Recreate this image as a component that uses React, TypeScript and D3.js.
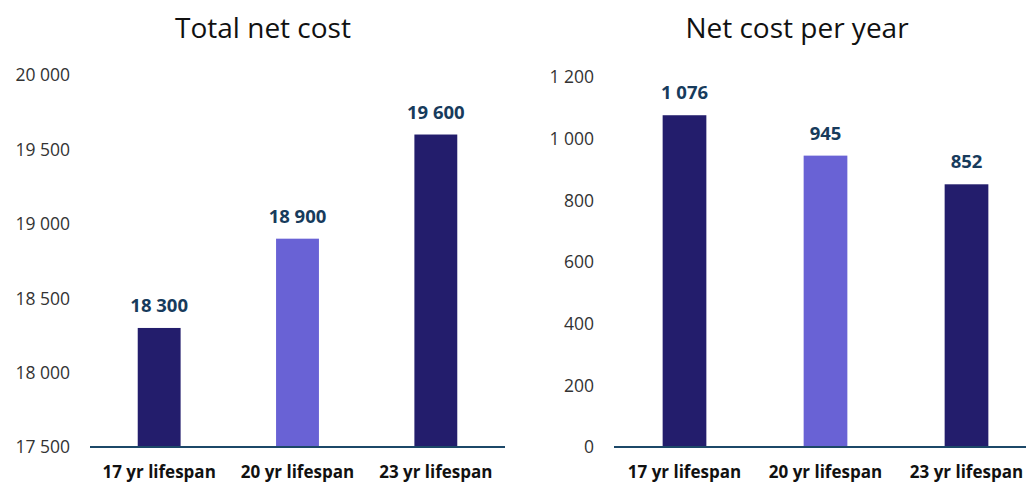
import React from "react";
import * as d3 from "d3";

const categories = ["17 yr lifespan", "20 yr lifespan", "23 yr lifespan"];
const totalCost = [18300, 18900, 19600];
const costPerYear = [1076, 945, 852];
const totalTicks = [17500, 18000, 18500, 19000, 19500, 20000];
const yearTicks = [0, 200, 400, 600, 800, 1000, 1200];
const barColors = ["#231d6c", "#6962d5", "#231d6c"];

const W = 1026;
const H = 484;
const FONT = "'Open Sans', 'Noto Sans', sans-serif";

const fmt = (v: number) => d3.format(",")(v).replace(/,/g, " ");

type PanelProps = {
  title: string;
  titleX: number;
  values: number[];
  ticks: number[];
  domain: [number, number];
  x0: number;
  x1: number;
  yTop: number;
  yBase: number;
  tickRight: number;
};

function Panel({ title, titleX, values, ticks, domain, x0, x1, yTop, yBase, tickRight }: PanelProps) {
  const x = d3.scaleBand<string>().domain(categories).range([x0, x1]).paddingInner(0.69).paddingOuter(0.345);
  const y = d3.scaleLinear().domain(domain).range([yBase, yTop]);
  return (
    <g>
      <text x={titleX} y={38} textAnchor="middle" fontSize={28} fill="#111" fontFamily={FONT}>
        {title}
      </text>
      {ticks.map((t) => (
        <text key={t} x={tickRight} y={y(t)} dy="0.36em" textAnchor="end" fontSize={17.5} fill="#333" fontFamily={FONT}>
          {fmt(t)}
        </text>
      ))}
      {values.map((v, i) => (
        <g key={categories[i]}>
          <rect x={x(categories[i])} y={y(v)} width={x.bandwidth()} height={yBase - y(v)} fill={barColors[i]} />
          <text
            x={(x(categories[i]) ?? 0) + x.bandwidth() / 2}
            y={y(v) - 16}
            textAnchor="middle"
            fontSize={18.5}
            fontWeight="bold"
            fill="#173b5c"
            fontFamily={FONT}
          >
            {fmt(v)}
          </text>
          <text
            x={(x(categories[i]) ?? 0) + x.bandwidth() / 2}
            y={478}
            textAnchor="middle"
            fontSize={17}
            fontWeight="bold"
            fill="#111"
            fontFamily={FONT}
          >
            {categories[i]}
          </text>
        </g>
      ))}
      <line x1={x0} x2={x1} y1={yBase} y2={yBase} stroke="#1c4868" strokeWidth={2} />
    </g>
  );
}

export default function App() {
  return (
    <svg width={W} height={H} style={{ position: "absolute", left: 0, top: 0, background: "#fff" }}>
      <Panel
        title="Total net cost"
        titleX={263}
        values={totalCost}
        ticks={totalTicks}
        domain={[17500, 20000]}
        x0={90}
        x1={505}
        yTop={75}
        yBase={447}
        tickRight={70}
      />
      <Panel
        title="Net cost per year"
        titleX={797}
        values={costPerYear}
        ticks={yearTicks}
        domain={[0, 1200]}
        x0={614}
        x1={1037}
        yTop={77}
        yBase={447}
        tickRight={594}
      />
    </svg>
  );
}
